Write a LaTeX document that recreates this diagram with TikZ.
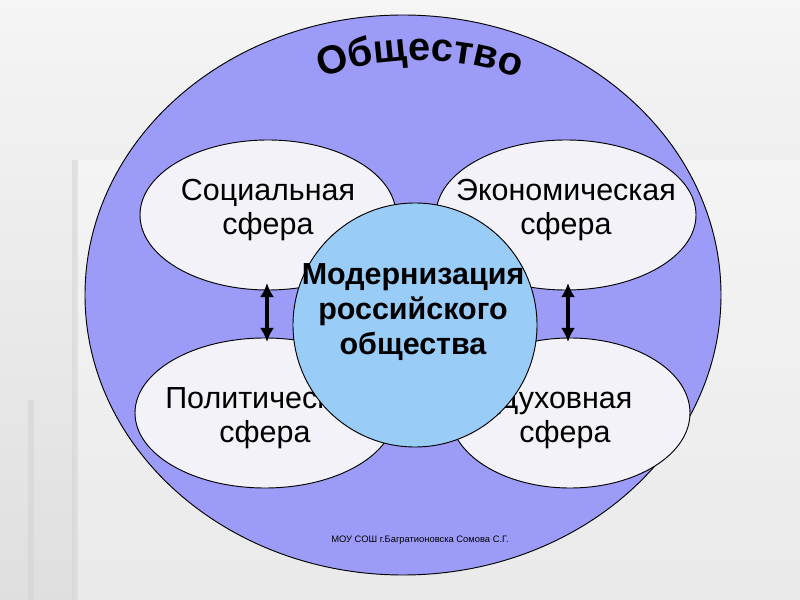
\documentclass[tikz,border=0pt]{standalone}
\usepackage{fontspec}
\setmainfont{Liberation Sans}
\usetikzlibrary{decorations.text,arrows.meta}
\definecolor{big}{HTML}{9C9CF8}
\definecolor{pale}{HTML}{F2F2F8}
\definecolor{mid}{HTML}{9ACCF8}
\tikzset{sphere/.style={draw=black,fill=pale,line width=0.8pt},
lab/.style={font=\fontsize{26}{29}\selectfont,align=center},
dbl/.style={{Latex[length=12pt,width=12pt]}-{Latex[length=12pt,width=12pt]},line width=4pt}}
\begin{document}
\begin{tikzpicture}[x=0.03cm,y=-0.03cm]
\useasboundingbox (0,0) rectangle (800,600);
\shade[top color=gray!8,bottom color=gray!25] (0,0) rectangle (800,600);
\fill[white,opacity=0.35] (75,160) rectangle (800,600);
\fill[gray!35,opacity=0.5] (28,400) rectangle (34,600);
\fill[gray!35,opacity=0.5] (72,160) rectangle (78,600);
\draw[fill=big,line width=0.8pt] (403,295) ellipse [x radius=318,y radius=280];
\path[decorate,decoration={text along path,text align=center,
 text={|\fontsize{34}{34}\selectfont\bfseries|Общество}}]
 (290,92) .. controls (370,50) and (470,50) .. (550,92);
\draw[sphere] (268,215) ellipse [x radius=128,y radius=75];
\draw[sphere] (566,215) ellipse [x radius=130,y radius=75];
\draw[sphere] (265,413) ellipse [x radius=130,y radius=75];
\draw[sphere] (570,413) ellipse [x radius=120,y radius=75];
\node[lab] (s) at (268,210) {Социальная\\сфера};
\node[lab] (e) at (566,210) {Экономическая\\сфера};
\node[lab] (p) at (265,418) {Политическая\\сфера};
\node[lab] (d) at (565,418) {Духовная\\сфера};
\draw[fill=mid,line width=0.8pt] (415,325) circle [radius=122];
\node[font=\fontsize{26}{30}\selectfont\bfseries,align=center] (m) at (413,312) {Модернизация\\российского\\общества};
\coordinate (a1) at (267,283); \coordinate (a2) at (267,342);
\coordinate (b1) at (568,283); \coordinate (b2) at (568,342);
\draw[dbl] (a1) -- (a2);
\draw[dbl] (b1) -- (b2);
\node[font=\fontsize{8}{9}\selectfont] (f) at (420,540) {МОУ СОШ г.Багратионовска Сомова С.Г.};
\end{tikzpicture}
\end{document}
